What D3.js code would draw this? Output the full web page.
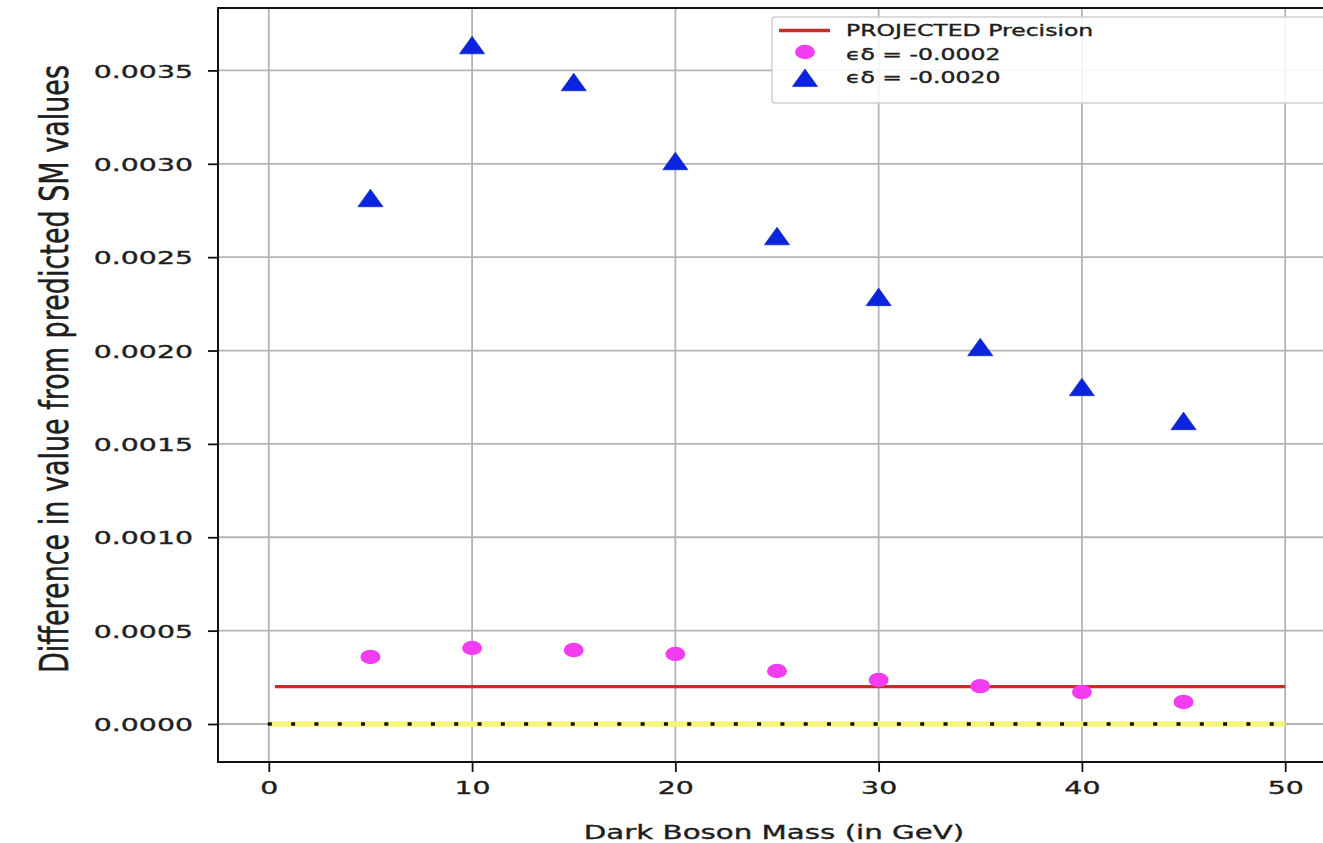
<!DOCTYPE html>
<html>
<head>
<meta charset="utf-8">
<script src="https://cdn.jsdelivr.net/npm/d3@7"></script>
<style>
  html, body { margin: 0; padding: 0; background: #fff; }
  svg { display: block; overflow: hidden; }
  text { font-family: "DejaVu Sans", sans-serif; fill: #1e1e1e; stroke: #1e1e1e; stroke-width: 0.35px; }
</style>
</head>
<body>
<svg id="chart" width="1323" height="843"></svg>
<script>
// Dark boson mass points (GeV)
const masses = [5, 10, 15, 20, 25, 30, 35, 40, 45];
// Deviation from SM prediction for two values of epsilon*delta
const smallCoupling = [0.000359, 0.000407, 0.000396, 0.000375, 0.000284, 0.000236, 0.000203, 0.000171, 0.000118];
const largeCoupling = [0.002816, 0.003635, 0.003437, 0.003014, 0.002612, 0.002286, 0.002018, 0.001804, 0.001622];
// Projected precision level and the zero reference
const precisionLevel = 0.0002;
const precisionSpan = [0.3, 50];
const zeroSpan = [0, 50];
// Axis ticks
const xTicks = [0, 10, 20, 30, 40, 50];
const yTicks = [0.0000, 0.0005, 0.0010, 0.0015, 0.0020, 0.0025, 0.0030, 0.0035];
// Legend entries
const legendLabels = ["PROJECTED Precision", "\u03f5\u03b4 = -0.0002", "\u03f5\u03b4 = -0.0020"];

const SX = 1.55; // horizontal stretch applied to the type

const svg = d3.select("#chart");
const plotLeft = 218, plotTop = 8, plotW = 1118, plotH = 754;

const x = d3.scaleLinear().domain([-2.5, 52.5]).range([plotLeft, plotLeft + plotW]);
const y = d3.scaleLinear().domain([-0.0002035, 0.0038343]).range([plotTop + plotH, plotTop]);

const colors = { red: "#cc2b27", magenta: "#f23cf0", blue: "#0a24e0", yellow: "#f6f57a", grid: "#b4b4b4" };

// Grid
const grid = svg.append("g");
grid.selectAll("line.gx").data(xTicks).join("line").attr("class", "gx")
  .attr("x1", d => x(d)).attr("x2", d => x(d))
  .attr("y1", plotTop).attr("y2", plotTop + plotH)
  .attr("stroke", colors.grid).attr("stroke-width", 1.8);
grid.selectAll("line.gy").data(yTicks).join("line").attr("class", "gy")
  .attr("y1", d => y(d)).attr("y2", d => y(d))
  .attr("x1", plotLeft).attr("x2", plotLeft + plotW)
  .attr("stroke", colors.grid).attr("stroke-width", 1.8);

// Zero reference: yellow band with black dots
svg.append("line")
  .attr("x1", x(zeroSpan[0])).attr("x2", x(zeroSpan[1]))
  .attr("y1", y(0)).attr("y2", y(0))
  .attr("stroke", colors.yellow).attr("stroke-width", 5.5);
svg.append("line")
  .attr("x1", x(zeroSpan[0]) - 1).attr("x2", x(zeroSpan[1]))
  .attr("y1", y(0)).attr("y2", y(0))
  .attr("stroke", "#111").attr("stroke-width", 3.6)
  .attr("stroke-dasharray", "4 19.3");

// Projected precision
svg.append("line")
  .attr("x1", x(precisionSpan[0])).attr("x2", x(precisionSpan[1]))
  .attr("y1", y(precisionLevel)).attr("y2", y(precisionLevel))
  .attr("stroke", colors.red).attr("stroke-width", 3.4);

// Circles: small coupling
svg.append("g").selectAll("ellipse").data(masses).join("ellipse")
  .attr("cx", d => x(d))
  .attr("cy", (d, i) => y(smallCoupling[i]))
  .attr("rx", 10).attr("ry", 7.2)
  .attr("fill", colors.magenta);

// Triangles: large coupling
const tri = (cx, cy) => `M${cx},${cy - 9}L${cx + 12.6},${cy + 8.6}L${cx - 12.6},${cy + 8.6}Z`;
svg.append("g").selectAll("path").data(masses).join("path")
  .attr("d", (d, i) => tri(x(d), y(largeCoupling[i])))
  .attr("fill", colors.blue).attr("stroke", "#0a1aa8").attr("stroke-width", 0.6);

// Axes
const xAxis = svg.append("g").attr("transform", `translate(0,${plotTop + plotH})`)
  .call(d3.axisBottom(x).tickValues(xTicks).tickSize(10).tickPadding(0).tickFormat(d3.format("d")));
xAxis.select(".domain").remove();
xAxis.selectAll(".tick line").attr("stroke", "#111").attr("stroke-width", 1.8);
xAxis.selectAll(".tick text")
  .attr("y", 0).attr("dy", null)
  .attr("transform", `translate(0,32) scale(${SX},1)`)
  .attr("font-size", 18.3).attr("fill", "#1e1e1e");

const yAxis = svg.append("g").attr("transform", `translate(${plotLeft},0)`)
  .call(d3.axisLeft(y).tickValues(yTicks).tickSize(10).tickPadding(0).tickFormat(d3.format(".4f")));
yAxis.select(".domain").remove();
yAxis.selectAll(".tick line").attr("stroke", "#111").attr("stroke-width", 1.8);
yAxis.selectAll(".tick text")
  .attr("x", 0).attr("dy", "0.36em")
  .attr("transform", `translate(-25,0) scale(${SX},1)`)
  .attr("font-size", 18.3).attr("fill", "#1e1e1e");

// Frame
svg.append("rect")
  .attr("x", plotLeft).attr("y", plotTop).attr("width", plotW).attr("height", plotH)
  .attr("fill", "none").attr("stroke", "#111").attr("stroke-width", 2);

// Axis titles
svg.append("text")
  .attr("transform", `translate(774,839) scale(${SX},1)`)
  .attr("text-anchor", "middle").attr("font-size", 18.9)
  .text("Dark Boson Mass (in GeV)");

svg.append("text")
  .attr("transform", `translate(68,369) scale(1.42,1) rotate(-90)`)
  .attr("text-anchor", "middle").attr("font-size", 27)
  .text("Difference in value from predicted SM values");

// Legend
const lg = svg.append("g");
lg.append("rect")
  .attr("x", 772).attr("y", 17).attr("width", 560).attr("height", 86).attr("rx", 3)
  .attr("fill", "#fff").attr("fill-opacity", 0.85)
  .attr("stroke", "#cfcfcf").attr("stroke-width", 1.5);
lg.append("line")
  .attr("x1", 779).attr("x2", 830).attr("y1", 30.5).attr("y2", 30.5)
  .attr("stroke", colors.red).attr("stroke-width", 3.4);
lg.append("ellipse")
  .attr("cx", 805).attr("cy", 52).attr("rx", 10).attr("ry", 7.2)
  .attr("fill", colors.magenta);
lg.append("path").attr("d", tri(805, 78))
  .attr("fill", colors.blue).attr("stroke", "#0a1aa8").attr("stroke-width", 0.6);
lg.selectAll("text").data(legendLabels).join("text")
  .attr("transform", (d, i) => `translate(846,${36 + i * 23.5}) scale(${SX},1)`)
  .attr("font-size", 15.2)
  .text(d => d);
</script>
</body>
</html>
